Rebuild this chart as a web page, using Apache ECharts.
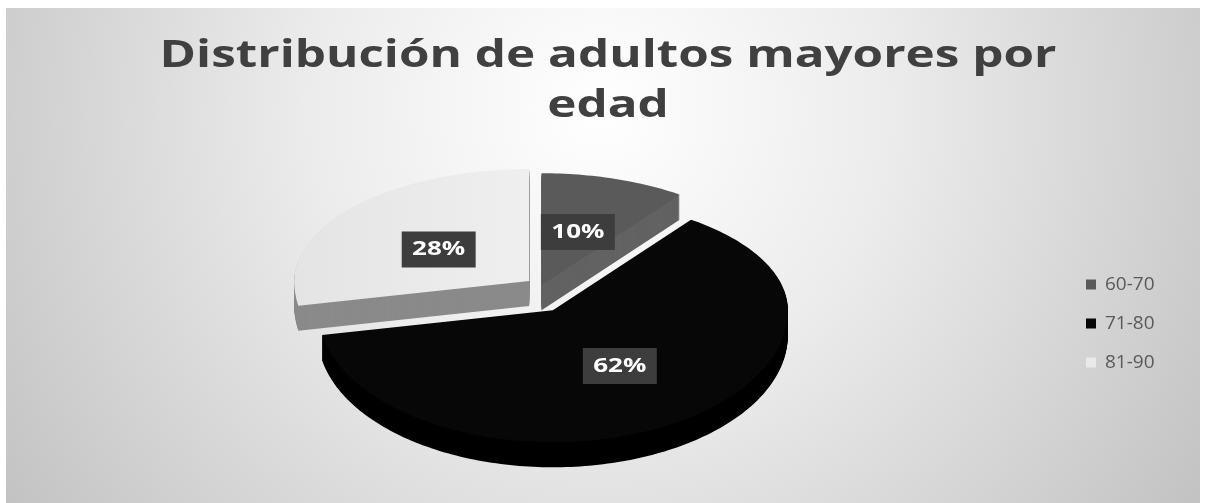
<!DOCTYPE html>
<html>
<head>
<meta charset="utf-8">
<script src="https://cdn.jsdelivr.net/npm/echarts@6/dist/echarts.min.js"></script>
<style>
  html, body { margin: 0; padding: 0; background: #ffffff; }
  #chart { width: 1209px; height: 503px; }
</style>
</head>
<body>
<div id="chart"></div>
<script>
// Age groups and their share of older adults (%)
const categories = ['60-70', '71-80', '81-90'];
const values = [10, 62, 28];
const titleLines = ['Distribución de adultos mayores por', 'edad'];

// Slice styling: top face, extruded side, explode distance
const topColors = ['#5a5a5a', '#070707', '#e9e9e9'];
const sideColors = ['#626262', '#000000', '#8a8a8a'];
const explode = [5, 24, 14];

// Tilted pie geometry (front half slightly larger for perspective)
const CX = 540, CY = 290, RX = 235, RY_BACK = 112, RY_FRONT = 132, DEPTH = 25;
const total = values.reduce((a, b) => a + b, 0);

function rimPoint(cx, cy, theta) {
  // theta: radians, clockwise from 12 o'clock
  const c = Math.cos(theta);
  return [cx + RX * Math.sin(theta), cy - c * (c > 0 ? RY_BACK : RY_FRONT)];
}

function renderSlice(params, api) {
  const i = params.seriesIndex;
  const v = api.value(0);
  let start = 0;
  for (let k = 0; k < i; k++) start += values[k];
  const a0 = start / total * 2 * Math.PI;
  const a1 = (start + v) / total * 2 * Math.PI;
  const mid = (a0 + a1) / 2;
  const tx = CX + explode[i] * Math.sin(mid);
  const ty = CY - explode[i] * Math.cos(mid);

  const steps = Math.max(8, Math.ceil((a1 - a0) / 0.02));
  const pts = [[tx, ty]];
  for (let s = 0; s <= steps; s++) pts.push(rimPoint(tx, ty, a0 + (a1 - a0) * s / steps));

  const children = [];
  // extruded body: stacked copies of the face, shifted downward
  for (let d = DEPTH; d >= 1; d--) {
    children.push({
      type: 'polygon',
      shape: { points: pts.map(p => [p[0], p[1] + d]) },
      style: { fill: sideColors[i] },
      silent: true
    });
  }
  // top face
  children.push({
    type: 'polygon',
    shape: { points: pts },
    style: {
      fill: i === 2
        ? new echarts.graphic.LinearGradient(0, 0, 1, 0, [
            { offset: 0, color: '#e4e4e4' },
            { offset: 1, color: '#efefef' }
          ])
        : topColors[i]
    }
  });
  // percentage label halfway along the slice's middle
  const rp = rimPoint(tx, ty, mid);
  children.push({
    type: 'text',
    x: tx + 0.5 * (rp[0] - tx) + (i === 1 ? 4 : 0),
    y: ty + 0.5 * (rp[1] - ty) + (i === 2 ? 4 : 0),
    scaleX: 1.3,
    z2: 20,
    style: {
      text: v + '%',
      fill: '#ffffff',
      fontSize: 20,
      fontWeight: 'bold',
      fontFamily: 'Open Sans',
      align: 'center',
      verticalAlign: 'middle',
      backgroundColor: '#3d3d3d',
      padding: [9, 8, 7, 8]
    }
  });
  return { type: 'group', children: children };
}

const chart = echarts.init(document.getElementById('chart'));

const series = categories.map((name, i) => ({
  type: 'custom',
  name: name,
  coordinateSystem: 'none',
  renderItem: renderSlice,
  data: [values[i]],
  z: i === 1 ? 3 : 2,
  itemStyle: { color: topColors[i] }
}));

chart.setOption({
  animation: false,
  backgroundColor: '#ffffff',
  graphic: [
    {
      type: 'rect',
      z: -10,
      silent: true,
      shape: { x: 6, y: 8, width: 1194, height: 495 },
      style: {
        fill: new echarts.graphic.RadialGradient(600, 110, 720, [
          { offset: 0, color: '#ffffff' },
          { offset: 0.4, color: '#ececec' },
          { offset: 1, color: '#c2c2c2' }
        ], true)
      }
    },
    {
      type: 'text',
      x: 608, y: 56,
      scaleX: 1.3,
      silent: true,
      style: {
        text: titleLines[0],
        fontSize: 38, fontWeight: 'bold', fontFamily: 'Open Sans',
        fill: '#404040', align: 'center', verticalAlign: 'middle'
      }
    },
    {
      type: 'text',
      x: 608, y: 106,
      scaleX: 1.3,
      silent: true,
      style: {
        text: titleLines[1],
        fontSize: 38, fontWeight: 'bold', fontFamily: 'Open Sans',
        fill: '#404040', align: 'center', verticalAlign: 'middle'
      }
    }
  ],
  legend: {
    orient: 'vertical',
    left: 1081,
    top: 270,
    itemWidth: 10,
    itemHeight: 10,
    itemGap: 20,
    icon: 'rect',
    selectedMode: false,
    data: categories,
    textStyle: {
      fontSize: 19,
      color: '#5a5a5a',
      fontFamily: 'Open Sans',
      padding: [0, 0, 0, 4]
    }
  },
  series: series
});
</script>
</body>
</html>
